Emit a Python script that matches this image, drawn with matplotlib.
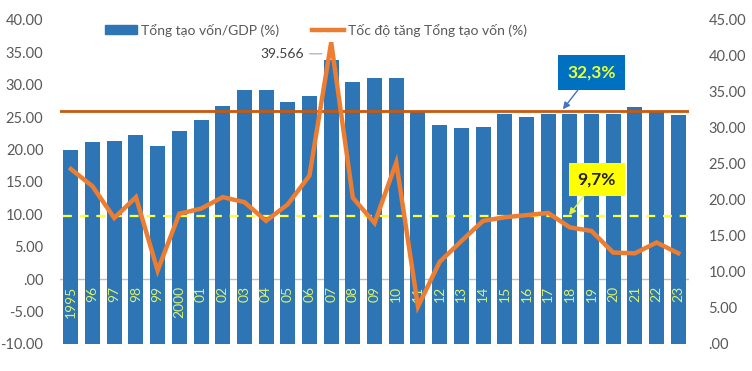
import numpy as np
import matplotlib
matplotlib.use('Agg')
import matplotlib.pyplot as plt
from matplotlib.patches import Patch
from matplotlib.lines import Line2D

plt.rcParams['font.family'] = ['Lato', 'DejaVu Sans']

# dữ liệu
years = ['1995', '96', '97', '98', '99', '2000', '01', '02', '03', '04', '05', '06',
         '07', '08', '09', '10', '11', '12', '13', '14', '15', '16', '17', '18',
         '19', '20', '21', '22', '23']
ty_le_gdp = [20.0, 21.1, 21.4, 22.2, 20.6, 22.8, 24.5, 26.8, 29.2, 29.2, 27.4, 28.2,
             33.8, 30.5, 31.1, 31.1, 25.8, 23.8, 23.4, 23.5, 25.5, 25.1, 25.5, 25.5,
             25.5, 25.5, 26.5, 26.0, 25.4]
toc_do_tang = [24.3, 21.9, 17.5, 20.4, 10.2, 18.1, 18.8, 20.4, 19.7, 17.1, 19.4, 23.4,
               41.9, 20.3, 16.8, 25.2, 5.2, 11.4, 14.3, 17.1, 17.6, 17.9, 18.2, 16.2,
               15.7, 12.7, 12.6, 14.1, 12.6]
tb_ty_le = 9.7      # đường vàng, trục trái
tb_toc_do = 32.3    # đường nâu, trục phải
nhan_dinh = '39.566'

left_ticks = [40, 35, 30, 25, 20, 15, 10, 5, 0, -5, -10]
right_ticks = [45, 40, 35, 30, 25, 20, 15, 10, 5, 0]

def fmt(v):
    s = '%.2f' % v
    if s.startswith('0'):
        s = s[1:]
    return s

gray = '#595959'
fig = plt.figure(figsize=(7.52, 3.71), dpi=100)
ax = fig.add_axes([0.0798, 0.0728, 0.8366, 0.8733])
ax2 = ax.twinx()

x = np.arange(len(years))
ax.bar(x, np.array(ty_le_gdp) + 10, bottom=-10, width=0.69, color='#2E75B6', zorder=2)
ax.axhline(0, color='#BFBFBF', lw=1, zorder=1)
ax.plot([-0.35, len(years) - 0.55], [tb_ty_le, tb_ty_le], color='#FFFF33', lw=1.6,
        ls=(0, (4, 3.5)), zorder=3)
for i, y in enumerate(years):
    ax.text(i, -1.0, y, rotation=90, ha='center', va='top', color='#D9F26B',
            fontsize=10, zorder=4)

ax.set_xlim(-0.5, len(years) - 0.5)
ax.set_ylim(-10, 40)
ax.set_yticks(left_ticks)
ax.set_yticklabels([fmt(v) for v in left_ticks])
ax.set_xticks([])

ax2.axhline(tb_toc_do, color='#C55A11', lw=2, zorder=1)
ax2.plot(x, toc_do_tang, color='#ED7D31', lw=3.2, zorder=5, solid_joinstyle='miter')
ax2.set_ylim(0, 45)
ax2.set_yticks(right_ticks)
ax2.set_yticklabels([fmt(v) for v in right_ticks])

for a in (ax, ax2):
    for s in a.spines.values():
        s.set_visible(False)
    a.tick_params(length=0, labelsize=10.5, colors=gray)
ax.tick_params(axis='y', pad=12)
ax2.tick_params(axis='y', pad=14)

# nhãn đỉnh 2007
ax2.annotate(nhan_dinh, xy=(11.7, 40.3), xytext=(10.75, 40.3), ha='right', va='center',
             fontsize=10, color='#404040',
             arrowprops=dict(arrowstyle='-', color='#A6A6A6', lw=0.8))

# hộp chú thích
ax2.annotate('32,3%', xy=(22.68, 32.6), xytext=(24.0, 37.7), ha='center', va='center',
             fontsize=12.5, fontweight='bold', color='#E8FF3A',
             bbox=dict(boxstyle='square,pad=0.55', fc='#0070C0', ec='none'),
             arrowprops=dict(arrowstyle='-|>', color='#4472C4', lw=1, mutation_scale=10,
                             shrinkA=0, shrinkB=0))
ax.annotate('9,7%', xy=(22.96, 9.9), xytext=(24.25, 15.4), ha='center', va='center',
            fontsize=12.5, fontweight='bold', color='#222222',
            bbox=dict(boxstyle='square,pad=0.5', fc='#FFFF00', ec='none'),
            arrowprops=dict(arrowstyle='-|>', color='#E0F040', lw=1, mutation_scale=10,
                            shrinkA=0, shrinkB=0))

handles = [Patch(color='#2E75B6'), Line2D([0], [0], color='#ED7D31', lw=3.2)]
ax.legend(handles, ['Tổng tạo vốn/GDP (%)', 'Tốc độ tăng Tổng tạo vốn (%)'], ncol=2,
          loc='center', bbox_to_anchor=(0.407, 0.969), frameon=False, fontsize=10,
          labelcolor=gray, handlelength=2.3, handleheight=0.6, columnspacing=2.4,
          handletextpad=0.3)

fig.savefig('out.png', dpi=100)
